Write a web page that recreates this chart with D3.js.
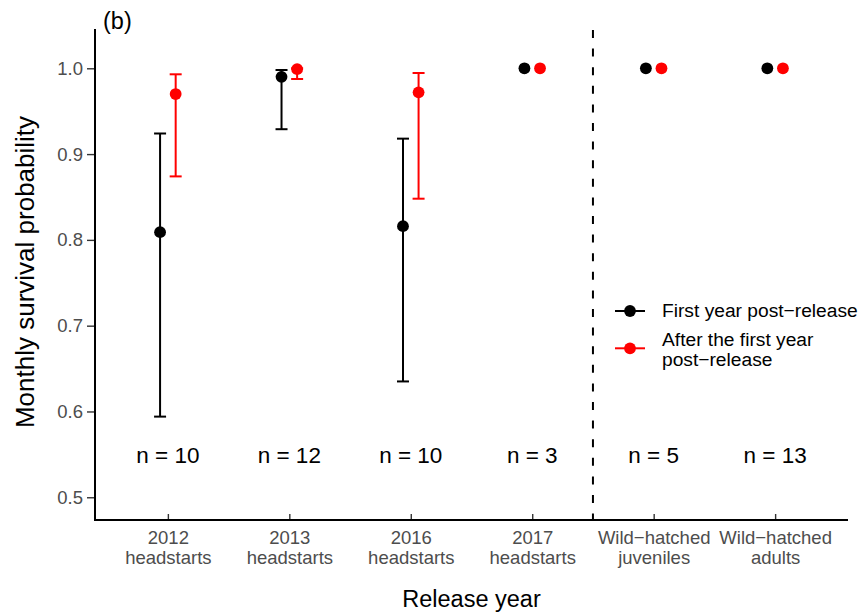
<!DOCTYPE html>
<html>
<head>
<meta charset="utf-8">
<script src="https://cdn.jsdelivr.net/npm/d3@7"></script>
<style>
  body { margin: 0; background: #fff; }
  text { font-family: "Liberation Sans", Arial, Helvetica, sans-serif; }
</style>
</head>
<body>
<script>
// data
categories = ["2012|headstarts", "2013|headstarts", "2016|headstarts", "2017|headstarts",
              "Wild\u2212hatched|juveniles", "Wild\u2212hatched|adults"];
sampleSizes = [10, 12, 10, 3, 5, 13];

firstYear   = [0.809, 0.990, 0.816, 1.0, 1.0, 1.0];
firstYearLo = [0.594, 0.929, 0.635, null, null, null];
firstYearHi = [0.924, 0.998, 0.918, null, null, null];

afterFirst   = [0.970, 0.999, 0.972, 1.0, 1.0, 1.0];
afterFirstLo = [0.874, 0.9875, 0.848, null, null, null];
afterFirstHi = [0.993, 1.0, 0.9945, null, null, null];

yTicks = [0.5, 0.6, 0.7, 0.8, 0.9, 1.0];

const width = 862, height = 614;
const plotLeft = 95, plotRight = 848, plotTop = 29, plotBottom = 520;

const svg = d3.select('body').append("svg")
    .attr("width", width)
    .attr("height", height);

const x = d3.scalePoint()
    .domain(categories)
    .range([plotLeft, plotRight])
    .padding(0.6);

const y = d3.scaleLinear()
    .domain([0.4735, 1.0458])
    .range([plotBottom, plotTop]);

const dodge = 7.8;

// y axis
const yAxis = svg.append("g")
    .attr("transform", `translate(${plotLeft},0)`)
    .call(d3.axisLeft(y).tickValues(yTicks).tickFormat(d3.format(".1f")).tickSize(8).tickPadding(4));
yAxis.select(".domain").remove();
yAxis.selectAll(".tick line").attr("stroke", "#333").attr("stroke-width", 1.4);
yAxis.selectAll(".tick text")
    .attr("fill", "#4d4d4d")
    .attr("font-size", 18.5);

// x axis (ticks drawn inward)
const xAxis = svg.append("g")
    .attr("transform", `translate(0,${plotBottom})`)
    .call(d3.axisBottom(x).tickSize(-6).tickFormat(""));
xAxis.select(".domain").remove();
xAxis.selectAll(".tick line").attr("stroke", "#333").attr("stroke-width", 1.4);
xAxis.selectAll(".tick").each(function(d) {
    const parts = d.split("|");
    const t = d3.select(this).append("text")
        .attr("fill", "#4d4d4d")
        .attr("font-size", 18.5)
        .attr("text-anchor", "middle");
    t.append("tspan").attr("x", 0).attr("y", 24).text(parts[0]);
    t.append("tspan").attr("x", 0).attr("y", 43.5).text(parts[1]);
});

// axis lines
svg.append("line")
    .attr("x1", plotLeft).attr("x2", plotLeft)
    .attr("y1", plotTop).attr("y2", plotBottom + 1)
    .attr("stroke", "black").attr("stroke-width", 2);
svg.append("line")
    .attr("x1", plotLeft - 1).attr("x2", plotRight)
    .attr("y1", plotBottom).attr("y2", plotBottom)
    .attr("stroke", "black").attr("stroke-width", 2);

// dashed divider between headstarts and wild-hatched
const divX = (x(categories[3]) + x(categories[4])) / 2;
svg.append("line")
    .attr("x1", divX).attr("x2", divX)
    .attr("y1", plotTop + 1).attr("y2", plotBottom)
    .attr("stroke", "black")
    .attr("stroke-width", 2)
    .attr("stroke-dasharray", "8,10.6");

// error bars + points
function drawSeries(vals, lo, hi, color, offset) {
    const g = svg.append("g");
    categories.forEach((c, i) => {
        const cx = x(c) + offset;
        if (lo[i] != null) {
            g.append("line")
                .attr("x1", cx).attr("x2", cx)
                .attr("y1", y(lo[i])).attr("y2", y(hi[i]))
                .attr("stroke", color).attr("stroke-width", 2);
            [lo[i], hi[i]].forEach(v => {
                g.append("line")
                    .attr("x1", cx - 6).attr("x2", cx + 6)
                    .attr("y1", y(v)).attr("y2", y(v))
                    .attr("stroke", color).attr("stroke-width", 2);
            });
        }
        g.append("circle")
            .attr("cx", cx)
            .attr("cy", y(vals[i]))
            .attr("r", 5.9)
            .attr("fill", color);
    });
}
drawSeries(firstYear, firstYearLo, firstYearHi, "black", -dodge);
drawSeries(afterFirst, afterFirstLo, afterFirstHi, "#ff0000", dodge);

// sample size labels
svg.append("g")
    .selectAll("text")
    .data(categories)
    .join("text")
    .attr("x", d => x(d))
    .attr("y", 463)
    .attr("text-anchor", "middle")
    .attr("font-size", 22.5)
    .attr("fill", "black")
    .text((d, i) => `n = ${sampleSizes[i]}`);

// legend
const legend = svg.append("g");
const legendItems = [
    {color: "black", y: 311, lines: ["First year post\u2212release"], base: 316.5},
    {color: "#ff0000", y: 348.3, lines: ["After the first year", "post\u2212release"], base: 345.5}
];
legendItems.forEach(it => {
    legend.append("line")
        .attr("x1", 615).attr("x2", 645)
        .attr("y1", it.y).attr("y2", it.y)
        .attr("stroke", it.color).attr("stroke-width", 2);
    legend.append("circle")
        .attr("cx", 630).attr("cy", it.y).attr("r", 5.9)
        .attr("fill", it.color);
    it.lines.forEach((l, j) => {
        legend.append("text")
            .attr("x", 662)
            .attr("y", it.base + j * 20)
            .attr("font-size", 19.2)
            .attr("fill", "black")
            .text(l);
    });
});

// titles
svg.append("text")
    .attr("x", (plotLeft + plotRight) / 2)
    .attr("y", 607)
    .attr("text-anchor", "middle")
    .attr("font-size", 23.5)
    .attr("fill", "black")
    .text("Release year");

svg.append("text")
    .attr("transform", "translate(34,272) rotate(-90)")
    .attr("text-anchor", "middle")
    .attr("font-size", 26)
    .attr("fill", "black")
    .text("Monthly survival probability");

svg.append("text")
    .attr("x", 103)
    .attr("y", 29)
    .attr("font-size", 23.5)
    .attr("fill", "black")
    .text("(b)");
</script>
</body>
</html>
